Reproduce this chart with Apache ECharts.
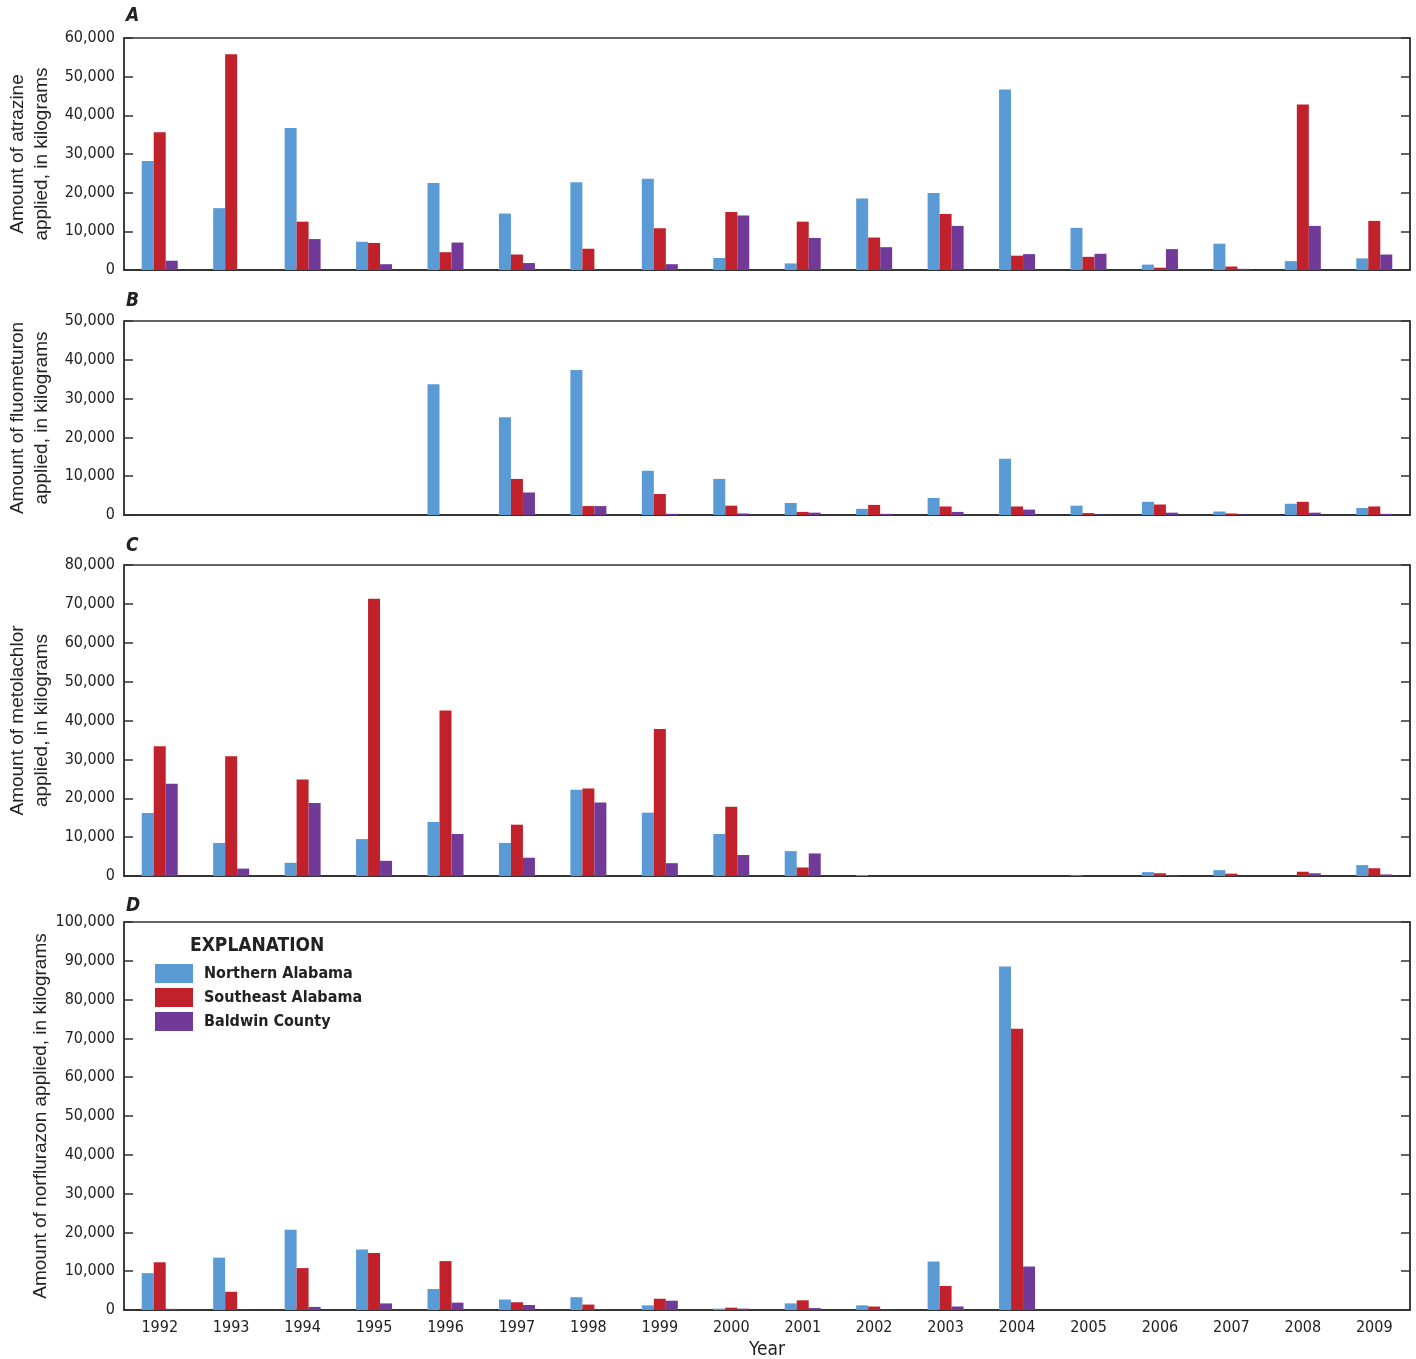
<!DOCTYPE html>
<html>
<head>
<meta charset="utf-8">
<script src="https://cdn.jsdelivr.net/npm/echarts@6/dist/echarts.min.js"></script>
<style>
html,body{margin:0;padding:0;background:#fff;}
#chart{width:1416px;height:1359px;}
</style>
</head>
<body>
<div id="chart"></div>
<script>
// ---------- DATA ----------
const years = ['1992','1993','1994','1995','1996','1997','1998','1999','2000','2001','2002','2003','2004','2005','2006','2007','2008','2009'];
const seriesNames = ['Northern Alabama','Southeast Alabama','Baldwin County'];

// A: atrazine
const atrazineNorth    = [28200,16000,36700,7300,22500,14600,22700,23600,3100,1700,18500,19900,46700,10900,1400,6800,2300,3000];
const atrazineSoutheast= [35600,55800,12500,7000,4600,4000,5500,10800,15000,12500,8400,14500,3700,3400,600,900,42800,12700];
const atrazineBaldwin  = [2400,0,8000,1500,7100,1800,0,1500,14100,8300,5900,11400,4100,4200,5400,300,11400,4000];

// B: fluometuron
const fluometuronNorth    = [0,0,0,0,33700,25200,37400,11400,9300,3100,1600,4400,14500,2400,3400,900,2900,1800];
const fluometuronSoutheast= [0,0,0,0,0,9300,2300,5400,2400,800,2600,2200,2200,500,2700,400,3400,2200];
const fluometuronBaldwin  = [0,0,0,0,0,5800,2300,300,400,600,300,800,1400,100,600,100,600,300];

// C: metolachlor
const metolachlorNorth    = [16200,8500,3400,9500,13900,8500,22200,16300,10800,6400,250,0,0,200,1000,1500,0,2800];
const metolachlorSoutheast= [33400,30800,24800,71300,42600,13200,22500,37800,17800,2200,0,0,0,0,700,600,1100,2000];
const metolachlorBaldwin  = [23700,1900,18800,3900,10800,4700,18900,3300,5400,5800,0,0,0,0,200,0,700,400];

// D: norflurazon
const norflurazonNorth    = [9500,13500,20700,15600,5400,2700,3300,1200,350,1700,1200,12500,88500,0,0,0,0,0];
const norflurazonSoutheast= [12300,4700,10800,14700,12600,2000,1400,2900,600,2500,900,6200,72500,0,0,0,0,0];
const norflurazonBaldwin  = [300,100,800,1700,1900,1300,100,2400,350,500,100,900,11200,0,0,0,0,0];

const panelLetters = ['A','B','C','D'];
const yNames = [
  'Amount of atrazine\napplied, in kilograms',
  'Amount of fluometuron\napplied, in kilograms',
  'Amount of metolachlor\napplied, in kilograms',
  'Amount of norflurazon applied, in kilograms'
];
const yMax = [60000, 50000, 80000, 100000];
const yInterval = 10000;
const xAxisTitle = 'Year';
const legendTitle = 'EXPLANATION';

const panelData = [
  [atrazineNorth, atrazineSoutheast, atrazineBaldwin],
  [fluometuronNorth, fluometuronSoutheast, fluometuronBaldwin],
  [metolachlorNorth, metolachlorSoutheast, metolachlorBaldwin],
  [norflurazonNorth, norflurazonSoutheast, norflurazonBaldwin]
];

// ---------- STYLE / LAYOUT ----------
const colors = ['#5b9bd5', '#c1212a', '#713a99'];
const narrow = 'DejaVu Sans Condensed, sans-serif';
const regular = 'Liberation Sans, Arial, sans-serif';
const gridBoxes = [
  {top: 38, height: 232},
  {top: 321, height: 194},
  {top: 565, height: 311},
  {top: 922, height: 388}
];
const nameGaps = [70, 70, 70, 71];
const letterTops = [7, 292, 537, 897];
const axisColor = '#333';

const grids = [], xAxes = [], yAxes = [], series = [], titles = [];
gridBoxes.forEach((g, i) => {
  grids.push({left: 124, right: 6, top: g.top, height: g.height, show: true,
    outerBoundsMode: 'none', containLabel: false,
    borderColor: axisColor, borderWidth: 1.5, backgroundColor: 'transparent'});
  const last = i === gridBoxes.length - 1;
  xAxes.push({
    type: 'category', gridIndex: i, data: years, boundaryGap: true,
    axisLine: {show: true, lineStyle: {color: axisColor, width: 2}},
    axisTick: {show: false},
    axisLabel: {show: last, color: '#222', fontFamily: narrow, fontSize: 16, margin: 10},
    name: last ? xAxisTitle : '', nameLocation: 'middle', nameGap: 31,
    nameMoveOverlap: false,
    nameTextStyle: {color: '#222', fontFamily: narrow, fontSize: 19}
  });
  yAxes.push({
    type: 'value', gridIndex: i, position: 'left', min: 0, max: yMax[i], interval: yInterval,
    axisLine: {show: true, lineStyle: {color: axisColor, width: 1.5}},
    axisTick: {show: true, inside: true, length: 9, lineStyle: {color: axisColor, width: 1.5}},
    axisLabel: {color: '#222', fontFamily: narrow, fontSize: 16, margin: 9,
      formatter: v => v.toLocaleString('en-US')},
    splitLine: {show: false},
    name: yNames[i], nameLocation: 'middle', nameGap: nameGaps[i], nameRotate: 90,
    nameMoveOverlap: false,
    nameTextStyle: {color: '#222', fontFamily: regular, fontSize: 19, lineHeight: 24}
  });
  yAxes.push({
    type: 'value', gridIndex: i, position: 'right', min: 0, max: yMax[i], interval: yInterval,
    axisLine: {show: true, lineStyle: {color: axisColor, width: 1.5}},
    axisTick: {show: true, inside: true, length: 9, lineStyle: {color: axisColor, width: 1.5}},
    axisLabel: {show: false}, splitLine: {show: false}
  });
  panelData[i].forEach((vals, s) => {
    series.push({
      type: 'bar', name: seriesNames[s], xAxisIndex: i, yAxisIndex: i * 2,
      data: vals, barWidth: 12, barGap: '0%', barCategoryGap: '0%',
      itemStyle: {color: colors[s]}, animation: false, silent: true
    });
  });
  titles.push({text: panelLetters[i], left: 126, top: letterTops[i], padding: 0,
    textStyle: {fontFamily: narrow, fontSize: 19, fontWeight: 'bold', fontStyle: 'italic', color: '#222'}});
});
titles.push({text: legendTitle, left: 190, top: 937, padding: 0,
  textStyle: {fontFamily: narrow, fontSize: 19, fontWeight: 'bold', color: '#222'}});

const chart = echarts.init(document.getElementById('chart'), null, {renderer: 'canvas'});
chart.setOption({
  animation: false,
  backgroundColor: '#fff',
  title: titles,
  legend: {
    data: seriesNames, orient: 'vertical', left: 155, top: 964, padding: 0,
    itemWidth: 38, itemHeight: 19, itemGap: 5, icon: 'rect',
    textStyle: {fontFamily: narrow, fontSize: 16, fontWeight: 'bold', color: '#222', padding: [0,0,0,6]}
  },
  grid: grids,
  xAxis: xAxes,
  yAxis: yAxes,
  series: series
});
</script>
</body>
</html>
